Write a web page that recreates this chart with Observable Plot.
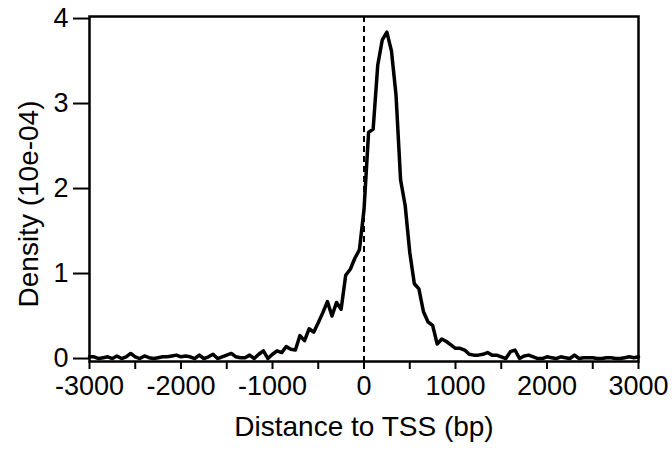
<!DOCTYPE html>
<html>
<head>
<meta charset="utf-8">
<script src="https://cdn.jsdelivr.net/npm/d3@7"></script>
<script src="https://cdn.jsdelivr.net/npm/@observablehq/plot@0.6"></script>
<style>
  html, body { margin: 0; padding: 0; background: #fff; }
  #chart svg { display: block; }
</style>
</head>
<body>
<div id="chart"></div>
<script>
const positions = [
  -3000,-2950,-2900,-2850,-2800,-2750,-2700,-2650,-2600,-2550,
  -2500,-2450,-2400,-2350,-2300,-2250,-2200,-2150,-2100,-2050,
  -2000,-1950,-1900,-1850,-1800,-1750,-1700,-1650,-1600,-1550,
  -1500,-1450,-1400,-1350,-1300,-1250,-1200,-1150,-1100,-1050,
  -1000,-950,-900,-850,-800,-750,-700,-650,-600,-550,
  -500,-450,-400,-350,-300,-250,-200,-150,-100,-50,
  0,50,100,150,200,250,300,350,400,450,
  500,550,600,650,700,750,800,850,900,950,
  1000,1050,1100,1150,1200,1250,1300,1350,1400,1450,
  1500,1550,1600,1650,1700,1750,1800,1850,1900,1950,
  2000,2050,2100,2150,2200,2250,2300,2350,2400,2450,
  2500,2550,2600,2650,2700,2750,2800,2850,2900,2950,
  3000
];
const density = [
  0.02,0.02,0.00,0.01,0.02,0.00,0.03,0.00,0.02,0.06,
  0.02,0.00,0.03,0.01,0.00,0.01,0.02,0.02,0.03,0.04,
  0.02,0.03,0.02,0.00,0.04,0.00,0.02,0.05,0.00,0.02,
  0.04,0.06,0.02,0.01,0.01,0.04,0.00,0.05,0.09,0.00,
  0.05,0.09,0.07,0.14,0.11,0.10,0.27,0.21,0.35,0.31,
  0.42,0.54,0.67,0.50,0.66,0.58,0.98,1.05,1.18,1.28,
  1.75,2.66,2.70,3.45,3.75,3.84,3.62,3.10,2.10,1.80,
  1.25,0.88,0.82,0.55,0.43,0.39,0.17,0.23,0.20,0.16,
  0.12,0.12,0.10,0.05,0.04,0.04,0.05,0.07,0.04,0.04,
  0.02,0.00,0.08,0.10,0.00,0.03,0.04,0.02,0.00,0.00,
  0.02,0.01,0.00,0.02,0.01,0.00,0.04,0.00,0.01,0.01,
  0.01,0.00,0.00,0.01,0.01,0.00,0.00,0.01,0.02,0.01,
  0.02
];
const xTicks = [-3000,-2500,-2000,-1500,-1000,-500,0,500,1000,1500,2000,2500,3000];
const xTickLabels = [-3000,-2000,-1000,0,1000,2000,3000];
const yTicks = [0,1,2,3,4];
const xLabel = "Distance to TSS (bp)";
const yLabel = "Density (10e-04)";

const data = positions.map((p, i) => ({x: p, y: density[i]}));

const chart = Plot.plot({
  width: 672,
  height: 450,
  marginLeft: 89,
  marginRight: 34,
  marginTop: 16,
  marginBottom: 89,
  style: {fontFamily: "'Liberation Sans', Arial, sans-serif", color: "#000", background: "#fff"},
  x: {domain: [-3000, 3000]},
  y: {domain: [-0.035, 4.024]},
  marks: [
    Plot.axisX({
      ticks: xTicks,
      tickSize: 8,
      strokeWidth: 2,
      tickFormat: () => "",
      label: null
    }),
    Plot.axisY({
      ticks: yTicks,
      tickSize: 16,
      strokeWidth: 2,
      tickFormat: () => "",
      label: null
    }),
    Plot.text(xTickLabels, {x: d => d, frameAnchor: "bottom", dy: 25, text: d => String(d), fontSize: 27, textAnchor: "middle", lineAnchor: "middle", fill: "#000"}),
    Plot.text(yTicks, {y: d => d, frameAnchor: "left", dx: -21, text: d => String(d), fontSize: 27, textAnchor: "end", lineAnchor: "middle", fill: "#000"}),
    Plot.ruleX([0], {stroke: "#000", strokeWidth: 2, strokeDasharray: "6,4"}),
    Plot.line(data, {x: "x", y: "y", stroke: "#000", strokeWidth: 3.5, strokeLinejoin: "round"}),
    Plot.frame({stroke: "#000", strokeWidth: 2.5}),
    Plot.text([xLabel], {frameAnchor: "bottom", dy: 66, fontSize: 28, textAnchor: "middle", lineAnchor: "middle", fill: "#000"}),
    Plot.text([yLabel], {frameAnchor: "left", dx: -60, dy: 15, rotate: -90, fontSize: 28, textAnchor: "middle", lineAnchor: "middle", fill: "#000"})
  ]
});
document.getElementById("chart").appendChild(chart);
</script>
</body>
</html>
